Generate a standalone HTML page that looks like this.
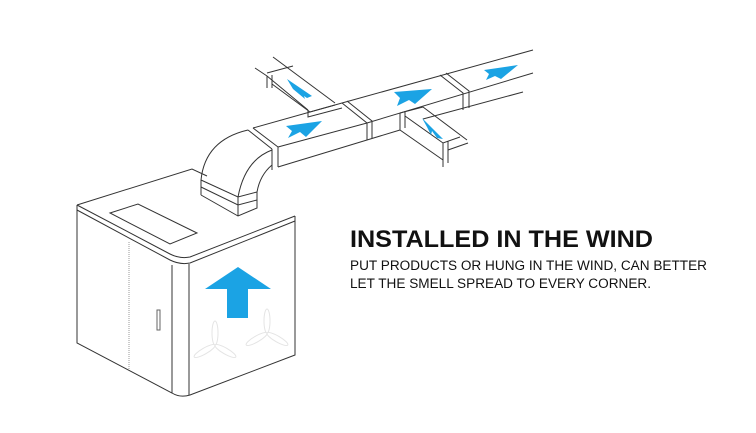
<!DOCTYPE html>
<html><head><meta charset="utf-8"><style>
html,body{margin:0;padding:0;background:#fff;}
svg{display:block}
</style></head><body>
<svg width="756" height="433" viewBox="0 0 756 433" xmlns="http://www.w3.org/2000/svg">
<g fill="none" stroke="#333" stroke-width="1">
<path d="M77,205 L192,169 L207,176"/>
<path d="M77,205 L170,254 Q180,259 190,257 L295,216"/>
<path d="M77,210 L170,260 Q180,265 190,263 L295,221"/>
<path d="M77,205 L77,343 L172,393 Q180,398 190,395 L295,355 L295,216"/>
<path d="M172,265 L172,393"/>
<path d="M189,264 L189,395"/>
<path d="M110,213 L138,204 L197,233 L170,244 Z"/>
<path d="M129,242 L129,370" stroke="#999" stroke-dasharray="1,1"/>
<rect x="157" y="310" width="3" height="20" stroke="#666"/>
<path d="M201,180 L238,197 L257,192"/>
<path d="M201,187 L238,205 L257,200"/>
<path d="M201,195 L238,216 L257,208 L257,192"/>
<path d="M201,180 L201,195 M238,197 L238,216"/>
<path d="M201,180 Q205,140 248,130"/>
<path d="M238,197 Q245,160 272,150"/>
<path d="M257,192 Q260,175 272,165"/>
<path d="M248,130 L272,149 M253,128 L278,147 M272,149 L272,170 M278,147 L278,167"/>
<path d="M253,128 L342,103 L533,50"/>
<path d="M278,147 L367,123 L533,73"/>
<path d="M278,167 L367,140 L400,130 M423,119 L523,92"/>
<path d="M342,103 L367,123 L367,140 M347,101 L372,121 L372,138"/>
<path d="M440,75 L463,93 L463,110 M446,73 L469,91 L469,108"/>
<path d="M273,57 L335,103"/>
<path d="M255,68 L267,76 L308,110"/>
<path d="M267,73 L293,66 M267,76 L267,88 M272,75 L272,88 M272,84 L310,112 L335,105"/>
<path d="M308,110 L308,117 L342,108"/>
<path d="M400,113 L423,107 L467,140"/>
<path d="M400,113 L400,130 L443,160 M405,111 L405,128"/>
<path d="M405,116 L443,143 L460,137 M443,143 L443,167 M448,141 L448,163"/>
<path d="M448,150 L468,143"/>
</g>
<g fill="#1ba3e4">
<polygon points="238,267 271,289 248,289 248,318 227,318 227,289 205,289"/>
<polygon points="286,126 322,121 306,137 300,132 288,138 292,131"/>
<polygon points="394,92 432,89 415,104 409,100 397,106 400,98"/>
<polygon points="484,70 518,65 501,79 495,76 486,80 489,74"/>
<polygon points="287,79 312,96 307,98 304,96 305,99 293,89"/>
<polygon points="422,118 443,139 437,138 432,131 431,135 427,127"/>
</g>
<g fill="none" stroke="#e4e4e4" stroke-width="1">
<ellipse cx="215" cy="333" rx="3" ry="12"/>
<ellipse cx="215" cy="333" rx="3" ry="12" transform="rotate(120 215 345)"/>
<ellipse cx="215" cy="333" rx="3" ry="12" transform="rotate(240 215 345)"/>
<ellipse cx="267" cy="321" rx="3" ry="12"/>
<ellipse cx="267" cy="321" rx="3" ry="12" transform="rotate(120 267 333)"/>
<ellipse cx="267" cy="321" rx="3" ry="12" transform="rotate(240 267 333)"/>
</g>
<g font-family="Liberation Sans, sans-serif" fill="#111">
<text x="350" y="247" font-size="24" font-weight="bold" textLength="303" lengthAdjust="spacingAndGlyphs">INSTALLED IN THE WIND</text>
<text x="350" y="270" font-size="13.5" textLength="357" lengthAdjust="spacingAndGlyphs">PUT PRODUCTS OR HUNG IN THE WIND, CAN BETTER</text>
<text x="350" y="288" font-size="13.5" textLength="301" lengthAdjust="spacingAndGlyphs">LET THE SMELL SPREAD TO EVERY CORNER.</text>
</g>
</svg>
</body></html>
